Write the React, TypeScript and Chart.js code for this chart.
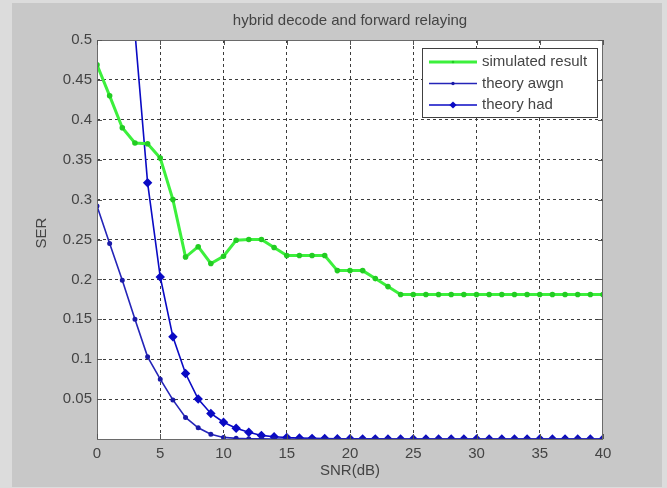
import React, { useEffect, useRef } from 'react';
import { Chart, registerables } from 'chart.js';

Chart.register(...registerables);

const TITLE = 'hybrid decode and forward relaying';
const X_LABEL = 'SNR(dB)';
const Y_LABEL = 'SER';

const snr = [
  0, 1, 2, 3, 4, 5, 6, 7, 8, 9, 10, 11, 12, 13, 14, 15, 16, 17, 18, 19, 20,
  21, 22, 23, 24, 25, 26, 27, 28, 29, 30, 31, 32, 33, 34, 35, 36, 37, 38, 39, 40,
];

const simulatedResult = [
  0.469, 0.43, 0.39, 0.371, 0.37, 0.352, 0.3, 0.228, 0.241, 0.22, 0.229,
  0.249, 0.25, 0.25, 0.24, 0.23, 0.23, 0.23, 0.23, 0.211, 0.211,
  0.211, 0.201, 0.191, 0.181, 0.181, 0.181, 0.181, 0.181, 0.181, 0.181,
  0.181, 0.181, 0.181, 0.181, 0.181, 0.181, 0.181, 0.181, 0.181, 0.181,
];

const theoryAwgn = [
  0.292, 0.245, 0.199, 0.15, 0.103, 0.075, 0.049, 0.027, 0.014, 0.006, 0.002,
  0.0008, 0.0003, 0.0001, 0, 0, 0, 0, 0, 0, 0,
  0, 0, 0, 0, 0, 0, 0, 0, 0, 0,
  0, 0, 0, 0, 0, 0, 0, 0, 0, 0,
];

const theoryHad = [
  1.05, 0.88, 0.7, 0.51, 0.321, 0.203, 0.128, 0.082, 0.05, 0.032, 0.021,
  0.0135, 0.0085, 0.0045, 0.0028, 0.0018, 0.0012, 0.0008, 0.0005, 0.0003, 0.0002,
  0.0001, 0.0001, 0, 0, 0, 0, 0, 0, 0, 0,
  0, 0, 0, 0, 0, 0, 0, 0, 0, 0,
];

const seriesLabels = ['simulated result', 'theory awgn', 'theory had'];

const xTickValues = [0, 5, 10, 15, 20, 25, 30, 35, 40];
const xTickLabels = ['0', '5', '10', '15', '20', '25', '30', '35', '40'];
const yTickValues = [0.05, 0.1, 0.15, 0.2, 0.25, 0.3, 0.35, 0.4, 0.45, 0.5];
const yTickLabels = ['0.05', '0.1', '0.15', '0.2', '0.25', '0.3', '0.35', '0.4', '0.45', '0.5'];

const W = 667;
const H = 488;
const FONT = "'Liberation Sans', Arial, Helvetica, sans-serif";
const TEXT = '#444444';

const decorPlugin = {
  id: 'matlabDecor',
  beforeDraw(chart: any) {
    const { ctx, chartArea: a } = chart;
    ctx.save();
    ctx.fillStyle = '#dcdcdc';
    ctx.fillRect(0, 0, W, H);
    ctx.fillStyle = '#c8c8c8';
    ctx.fillRect(12, 3, 650, 484);
    ctx.fillStyle = '#ffffff';
    ctx.fillRect(a.left, a.top, a.right - a.left, a.bottom - a.top);
    ctx.restore();
  },
  afterDraw(chart: any) {
    const { ctx, chartArea: a, scales } = chart;
    ctx.save();
    ctx.strokeStyle = '#6a6a6a';
    ctx.lineWidth = 1;
    ctx.strokeRect(a.left + 0.5, a.top + 0.5, a.right - a.left - 1, a.bottom - a.top);
    ctx.strokeStyle = '#555';
    ctx.beginPath();
    const tl = 5;
    xTickValues.forEach((v) => {
      const px = Math.round(scales.x.getPixelForValue(v)) + 0.5;
      ctx.moveTo(px, a.bottom);
      ctx.lineTo(px, a.bottom - tl);
      ctx.moveTo(px, a.top);
      ctx.lineTo(px, a.top + tl);
    });
    yTickValues.forEach((v) => {
      const py = Math.round(scales.y.getPixelForValue(v)) + 0.5;
      ctx.moveTo(a.left, py);
      ctx.lineTo(a.left + tl, py);
      ctx.moveTo(a.right, py);
      ctx.lineTo(a.right - tl, py);
    });
    ctx.stroke();

    ctx.fillStyle = TEXT;
    ctx.font = `15px ${FONT}`;
    ctx.textAlign = 'center';
    ctx.textBaseline = 'middle';
    const cx = (a.left + a.right) / 2;
    ctx.fillText(TITLE, cx, 21);
    ctx.fillText(X_LABEL, cx, 471);
    ctx.save();
    ctx.translate(42, 233);
    ctx.rotate(-Math.PI / 2);
    ctx.fillText(Y_LABEL, 0, 0);
    ctx.restore();

    const lx = 422, ly = 48, lw = 175, lh = 69;
    ctx.fillStyle = '#ffffff';
    ctx.fillRect(lx, ly, lw, lh);
    ctx.strokeStyle = '#404040';
    ctx.lineWidth = 1;
    ctx.strokeRect(lx + 0.5, ly + 0.5, lw, lh);
    const rowY = [62, 83.5, 105];
    chart.data.datasets.forEach((ds: any, i: number) => {
      const y = rowY[i];
      ctx.strokeStyle = ds.borderColor;
      ctx.lineWidth = ds.borderWidth;
      ctx.beginPath();
      ctx.moveTo(429, y);
      ctx.lineTo(477, y);
      ctx.stroke();
      ctx.fillStyle = ds.pointBackgroundColor;
      ctx.beginPath();
      if (ds.pointStyle === 'rectRot') {
        const r = ds.pointRadius;
        ctx.moveTo(453, y - r);
        ctx.lineTo(453 + r, y);
        ctx.lineTo(453, y + r);
        ctx.lineTo(453 - r, y);
        ctx.closePath();
      } else {
        ctx.arc(453, y, ds.pointRadius, 0, Math.PI * 2);
      }
      ctx.fill();
      ctx.fillStyle = TEXT;
      ctx.font = `15px ${FONT}`;
      ctx.textAlign = 'left';
      ctx.textBaseline = 'middle';
      ctx.fillText(ds.label, 482, y);
    });
    ctx.restore();
  },
};

const gridColor = (edgeA: number, edgeB: number) => (c: any) => {
  const v = c.tick ? c.tick.value : NaN;
  if (Math.abs(v - edgeA) < 1e-9 || Math.abs(v - edgeB) < 1e-9) return 'rgba(0,0,0,0)';
  return '#3c3c3c';
};

export default function App() {
  const ref = useRef<HTMLCanvasElement | null>(null);

  useEffect(() => {
    if (!ref.current) return;
    const mk = (arr: number[]) => snr.map((x, i) => ({ x, y: arr[i] }));
    const chart = new Chart(ref.current, {
      type: 'line',
      data: {
        datasets: [
          {
            label: seriesLabels[0],
            data: mk(simulatedResult),
            borderColor: '#3cf03c',
            backgroundColor: '#3cf03c',
            pointBackgroundColor: '#22cc22',
            pointBorderColor: '#22cc22',
            borderWidth: 3,
            pointRadius: 1.3,
            pointStyle: 'circle',
            tension: 0,
          },
          {
            label: seriesLabels[1],
            data: mk(theoryAwgn),
            borderColor: '#2424b8',
            backgroundColor: '#2424b8',
            pointBackgroundColor: '#1a1aa8',
            pointBorderColor: '#1a1aa8',
            borderWidth: 1.6,
            pointRadius: 1.7,
            pointStyle: 'circle',
            tension: 0,
          },
          {
            label: seriesLabels[2],
            data: mk(theoryHad),
            borderColor: '#0a0ac4',
            backgroundColor: '#0a0ac4',
            pointBackgroundColor: '#0a0ac4',
            pointBorderColor: '#0a0ac4',
            borderWidth: 1.6,
            pointRadius: 3.6,
            pointStyle: 'rectRot',
            tension: 0,
          },
        ],
      },
      options: {
        responsive: false,
        animation: false,
        events: [],
        layout: { padding: { top: 40, right: 64, left: 0, bottom: 0 } },
        plugins: {
          legend: { display: false },
          title: { display: false },
          tooltip: { enabled: false },
        },
        scales: {
          x: {
            type: 'linear',
            min: 0,
            max: 40,
            afterBuildTicks: (s: any) => {
              s.ticks = xTickValues.map((v) => ({ value: v }));
            },
            afterFit: (s: any) => {
              s.height = 49;
            },
            ticks: {
              autoSkip: false,
              maxRotation: 0,
              padding: 6,
              color: TEXT,
              font: { family: FONT, size: 15 },
              callback: (_v: any, i: number) => xTickLabels[i],
            },
            grid: { color: gridColor(0, 40), drawTicks: false, lineWidth: 1 },
            border: { display: false, dash: [3, 3] },
          },
          y: {
            type: 'linear',
            min: 0,
            max: 0.5,
            afterBuildTicks: (s: any) => {
              s.ticks = yTickValues.map((v) => ({ value: v }));
            },
            afterFit: (s: any) => {
              s.width = 97;
            },
            ticks: {
              autoSkip: false,
              padding: 5,
              color: TEXT,
              font: { family: FONT, size: 15 },
              callback: (_v: any, i: number) => yTickLabels[i],
            },
            grid: { color: gridColor(0, 0.5), drawTicks: false, lineWidth: 1 },
            border: { display: false, dash: [3, 3] },
          },
        },
      },
      plugins: [decorPlugin],
    });
    return () => chart.destroy();
  }, []);

  return (
    <div style={{ position: 'fixed', left: 0, top: 0, width: W, height: H, background: '#dcdcdc' }}>
      <canvas ref={ref} width={W} height={H} style={{ width: W, height: H, display: 'block' }} />
    </div>
  );
}
